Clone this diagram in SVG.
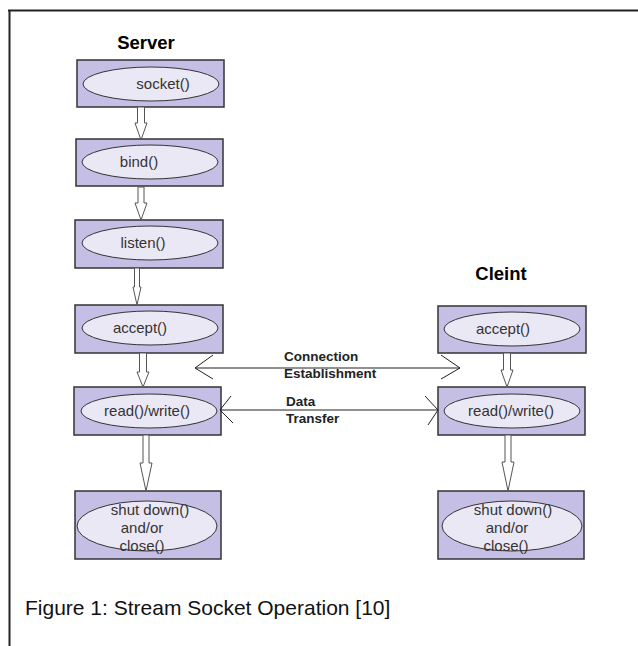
<svg xmlns="http://www.w3.org/2000/svg" width="638" height="646" viewBox="0 0 638 646">
<style>
.box{fill:#c6bfe5;stroke:#333;stroke-width:1.5}
.ell{fill:#ebe8f6;stroke:#333;stroke-width:1}
.t{font-family:"Liberation Sans",Arial,sans-serif;font-size:15px;fill:#333;text-anchor:middle}
.h{font-family:"Liberation Sans",Arial,sans-serif;font-size:18.5px;font-weight:bold;fill:#000;text-anchor:middle}
.lbl{font-family:"Liberation Sans",Arial,sans-serif;font-size:13.5px;font-weight:bold;fill:#222}
.blk{fill:#fff;stroke:#555;stroke-width:1}
.ln{fill:none;stroke:#222;stroke-width:1}
.cap{font-family:"Liberation Sans",Arial,sans-serif;font-size:21px;fill:#111}
</style>
<rect width="638" height="646" fill="#fff"/>
<path d="M8 10.5H638M9.5 10V646" fill="none" stroke="#222" stroke-width="2"/>
<text class="h" x="146" y="49">Server</text>
<text class="h" x="501" y="280">Cleint</text>

<g id="socket"><rect class="box" x="77" y="60" width="147" height="47"/><ellipse class="ell" cx="151" cy="84" rx="68" ry="17"/><text class="t" x="163" y="89">socket()</text></g>
<g id="bind"><rect class="box" x="76" y="139" width="147" height="47"/><ellipse class="ell" cx="150" cy="162" rx="68" ry="17"/><text class="t" x="139" y="167">bind()</text></g>
<g id="listen"><rect class="box" x="75" y="220" width="148" height="48"/><ellipse class="ell" cx="150" cy="243" rx="68" ry="17"/><text class="t" x="143" y="248">listen()</text></g>
<g id="accept-s"><rect class="box" x="75" y="305" width="148" height="48"/><ellipse class="ell" cx="150" cy="328" rx="68" ry="17"/><text class="t" x="140" y="333">accept()</text></g>
<g id="rw-s"><rect class="box" x="74" y="387" width="147" height="48"/><ellipse class="ell" cx="149" cy="411" rx="68" ry="17"/><text class="t" x="147" y="416">read()/write()</text></g>
<g id="close-s"><rect class="box" x="75" y="491" width="146" height="68"/><ellipse class="ell" cx="147" cy="526" rx="70" ry="25"/><text class="t" x="150" y="515">shut down()</text><text class="t" x="142" y="533">and/or</text><text class="t" x="142" y="551">close()</text></g>

<g id="accept-c"><rect class="box" x="438" y="306" width="148" height="47"/><ellipse class="ell" cx="512" cy="329" rx="68" ry="17"/><text class="t" x="503" y="334">accept()</text></g>
<g id="rw-c"><rect class="box" x="438" y="387" width="147" height="48"/><ellipse class="ell" cx="512" cy="411" rx="68" ry="17"/><text class="t" x="511" y="416">read()/write()</text></g>
<g id="close-c"><rect class="box" x="438" y="491" width="146" height="68"/><ellipse class="ell" cx="512" cy="526" rx="70" ry="25"/><text class="t" x="513" y="515">shut down()</text><text class="t" x="507" y="533">and/or</text><text class="t" x="506" y="551">close()</text></g>

<g id="connectors">
<polygon class="blk" points="137.5,107 144.5,107 144.5,123 147,123 141,140 135,123 137.5,123"/>
<polygon class="blk" points="138,187 144,187 144,203 147,203 141,220 135,203 138,203"/>
<polygon class="blk" points="134.5,268 139.5,268 139.5,287 141,287 137,305 133,287 134.5,287"/>
<polygon class="blk" points="139.5,353 146.5,353 146.5,372 149,372 143,387 137,372 139.5,372"/>
<polygon class="blk" points="143,435 149,435 149,463 152,463 146,491 140,463 143,463"/>
<polygon class="blk" points="503.5,353 510.5,353 510.5,370 513,370 507,387 501,370 503.5,370"/>
<polygon class="blk" points="505,435 511,435 511,462 514,462 508,491 502,462 505,462"/>
<path class="ln" d="M195 368H460M213 355L195 368L213 379M441 355L460 368L441 379"/>
<path class="ln" d="M220 410H438M231 396L220 410L233 423M425 396L438 410L428 425"/>
<text class="lbl" x="284" y="361">Connection</text>
<text class="lbl" x="284" y="378">Establishment</text>
<text class="lbl" x="286" y="406">Data</text>
<text class="lbl" x="286" y="423">Transfer</text>
</g>
<text class="cap" x="25" y="615">Figure 1: Stream Socket Operation [10]</text>
</svg>
